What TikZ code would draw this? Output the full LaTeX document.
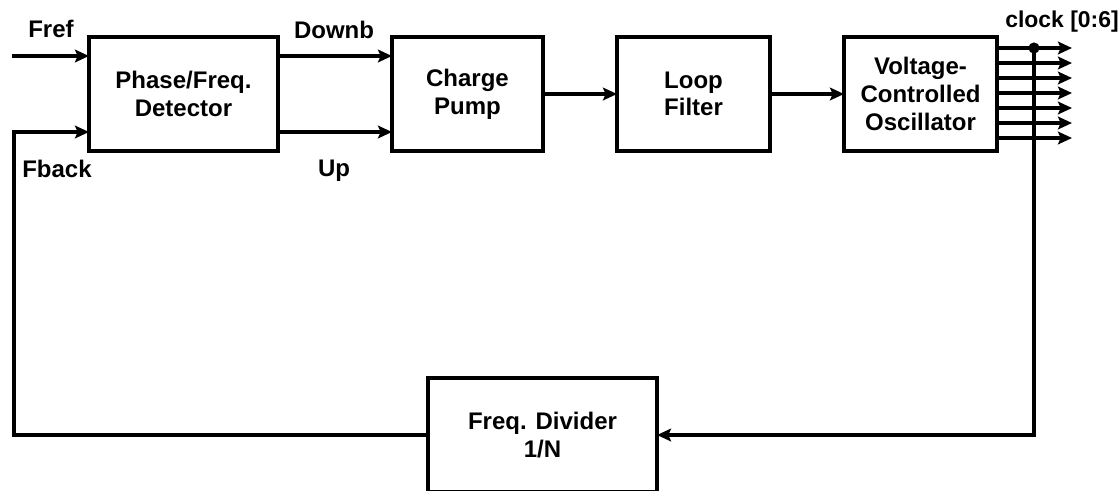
\documentclass[tikz,border=0pt]{standalone}
\usepackage{fontspec}
\setmainfont{Liberation Sans}
\usetikzlibrary{arrows.meta}
\begin{document}
\begin{tikzpicture}[x=0.75pt,y=-0.75pt,
  blk/.style={draw, line width=3pt, inner sep=0pt, outer sep=0pt, align=center,
    font=\fontsize{18}{20.7}\selectfont\bfseries},
  lbl/.style={anchor=base, inner sep=0pt, font=\fontsize{18}{21}\selectfont\bfseries},
  wire/.style={line width=3pt, line join=miter},
  arr/.style={wire, -{Stealth[length=10.5pt,width=9.5pt,inset=2pt]}}]
\useasboundingbox[fill=white] (0,0) rectangle (1120,490);
\node[blk, minimum width=189*0.75pt, minimum height=114*0.75pt] (pfd) at (183.5,94) {Phase/Freq.\\Detector};
\node[blk, minimum width=151*0.75pt, minimum height=114*0.75pt] (cp) at (467.5,94) {Charge\\Pump};
\node[blk, minimum width=153*0.75pt, minimum height=114*0.75pt] (lf) at (693.5,94) {Loop\\Filter};
\node[blk, minimum width=153*0.75pt, minimum height=114*0.75pt] (vco) at (920.5,94) {Voltage-\\Controlled\\Oscillator};
\node[blk, minimum width=229*0.75pt, minimum height=114*0.75pt] (div) at (542.5,435) {Freq. Divider\\1/N};
% labels
\node[lbl] (lfref) at (51,37) {Fref};
\node[lbl] (ldown) at (334,38) {Downb};
\node[lbl] (lfback) at (57,177) {Fback};
\node[lbl] (lup) at (334,176) {Up};
\node[lbl, font=\fontsize{17.2}{20}\selectfont\bfseries] (lclk) at (1062,27) {clock [0:6]};
% coordinates
\coordinate (fin) at (12,56);
\coordinate (fbl) at (14,435);
\coordinate (fbt) at (14,132);
\coordinate (tap) at (1034,48);
\coordinate (tapb) at (1034,435);
% connectors
\draw[arr] (fin) -- (fin -| pfd.west);
\draw[arr] (pfd.east |- fin) -- (cp.west |- fin);
\draw[arr] (pfd.east |- fbt) -- (cp.west |- fbt);
\draw[arr] (cp.east) -- (lf.west);
\draw[arr] (lf.east) -- (vco.west);
\foreach \k in {0,...,6}{
  \coordinate (o\k) at (1072,48+15*\k);
  \draw[arr] (vco.east |- o\k) -- (o\k);
}
\draw[arr] (tap) -- (tapb) -- (div.east);
\draw[arr] (div.west) -- (fbl) -- (fbt) -- (fbt -| pfd.west);
\fill (tap) circle[radius=4.2pt];
\end{tikzpicture}
\end{document}
